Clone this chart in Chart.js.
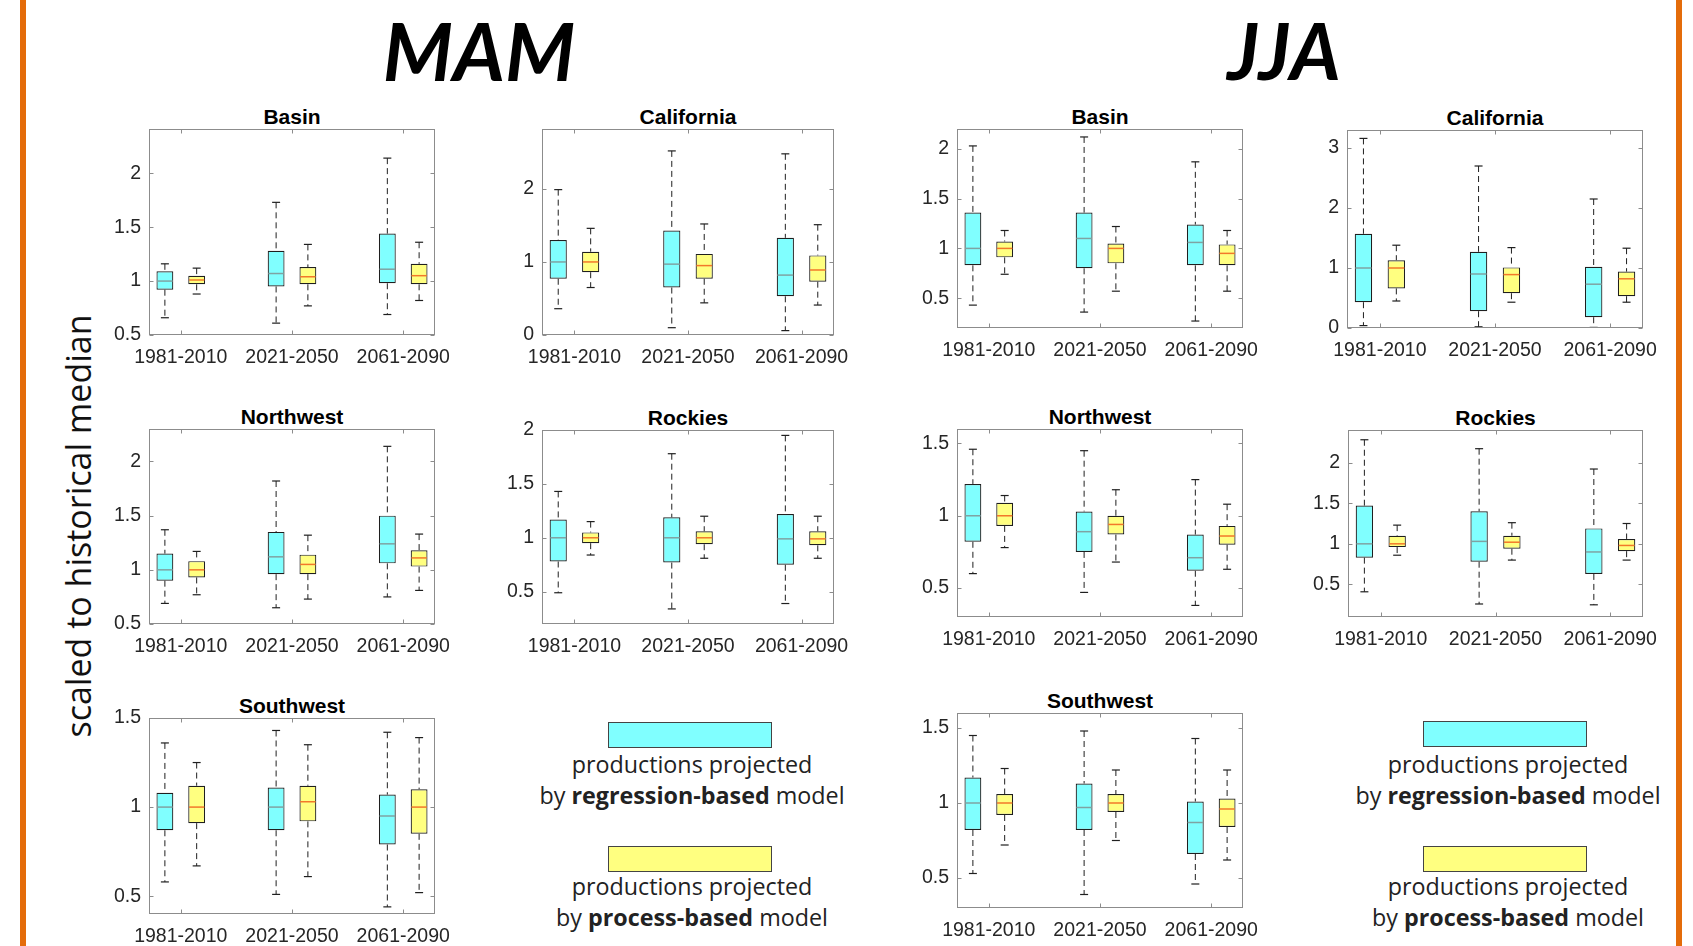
<!DOCTYPE html>
<html>
<head>
<meta charset="utf-8">
<script src="https://cdn.jsdelivr.net/npm/chart.js@4.4.1/dist/chart.umd.min.js"></script>
<style>
  html, body { margin: 0; padding: 0; background: #fff; }
  #page { position: relative; width: 1693px; height: 946px; overflow: hidden; background: #fff; }
  .edge { position: absolute; top: 0; width: 6px; height: 946px; background: #e46c0a; }
  .season { position: absolute; width: 300px; text-align: center; font-family: Lato, 'Open Sans', sans-serif;
            font-weight: 700; font-style: italic; font-size: 80px; line-height: 80px; color: #000; }
  .ptitle { position: absolute; text-align: center; font-family: 'Liberation Sans', Arial, sans-serif;
            font-weight: 700; font-size: 21px; line-height: 24px; color: #000; white-space: nowrap; }
  .ylab { position: absolute; left: 78px; top: 526px; transform: translate(-50%, -50%) rotate(-90deg);
          font-family: 'Open Sans', sans-serif; font-size: 34px; color: #111; white-space: nowrap; }
  .swatch { position: absolute; width: 164px; height: 26px; box-sizing: border-box; border: 1px solid #444; }
  .legtext { position: absolute; width: 400px; text-align: center; font-family: 'Open Sans', sans-serif;
             font-size: 23.3px; line-height: 31px; color: #222; white-space: nowrap; }
  canvas { position: absolute; }
</style>
</head>
<body>
<div id="page">
  <div class="edge" style="left:20px"></div>
  <div class="edge" style="left:1676px"></div>
  <div class="season" style="left:329px; top:10px">MAM</div>
  <div class="season" style="left:1134px; top:10px; font-size:78px">JJA</div>
  <div class="ylab">scaled to historical median</div>

  <div class="swatch" style="left:608px; top:722px; background:#80ffff"></div>
  <div class="legtext" style="left:492px; top:749px">productions projected</div>
  <div class="legtext" style="left:492px; top:780px">by <b>regression-based</b> model</div>
  <div class="swatch" style="left:608px; top:846px; background:#ffff80"></div>
  <div class="legtext" style="left:492px; top:871px">productions projected</div>
  <div class="legtext" style="left:492px; top:902px">by <b>process-based</b> model</div>

  <div class="swatch" style="left:1423px; top:721px; background:#80ffff"></div>
  <div class="legtext" style="left:1308px; top:749px">productions projected</div>
  <div class="legtext" style="left:1308px; top:780px">by <b>regression-based</b> model</div>
  <div class="swatch" style="left:1423px; top:846px; background:#ffff80"></div>
  <div class="legtext" style="left:1308px; top:871px">productions projected</div>
  <div class="legtext" style="left:1308px; top:902px">by <b>process-based</b> model</div>
</div>

<script>
// Periods on the x axis
const PERIODS = ['1981-2010', '2021-2050', '2061-2090'];

// Box statistics per period: [lower whisker, Q1, median, Q3, upper whisker]
// "REG" = regression-based model, "PROC" = process-based model

const MAM_BASIN_REG  = [[0.66, 0.92, 1.00, 1.09, 1.16], [0.61, 0.95, 1.07, 1.28, 1.73], [0.69, 0.98, 1.11, 1.44, 2.14]];
const MAM_BASIN_PROC = [[0.88, 0.97, 1.01, 1.05, 1.12], [0.77, 0.97, 1.04, 1.13, 1.34], [0.82, 0.97, 1.05, 1.16, 1.36]];

const MAM_CALIFORNIA_REG  = [[0.36, 0.77, 1.00, 1.30, 1.99], [0.10, 0.65, 0.97, 1.43, 2.52], [0.06, 0.53, 0.82, 1.33, 2.48]];
const MAM_CALIFORNIA_PROC = [[0.65, 0.86, 1.00, 1.14, 1.46], [0.44, 0.77, 0.95, 1.11, 1.52], [0.41, 0.73, 0.89, 1.09, 1.51]];

const JJA_BASIN_REG  = [[0.43, 0.83, 1.00, 1.36, 2.03], [0.36, 0.80, 1.10, 1.36, 2.12], [0.27, 0.83, 1.06, 1.24, 1.87]];
const JJA_BASIN_PROC = [[0.74, 0.91, 1.00, 1.07, 1.18], [0.57, 0.85, 1.00, 1.05, 1.22], [0.57, 0.83, 0.95, 1.04, 1.18]];

const JJA_CALIFORNIA_REG  = [[0.04, 0.43, 1.00, 1.57, 3.16], [0.02, 0.28, 0.90, 1.27, 2.70], [0.01, 0.18, 0.73, 1.02, 2.15]];
const JJA_CALIFORNIA_PROC = [[0.45, 0.66, 1.00, 1.13, 1.38], [0.43, 0.58, 0.89, 1.01, 1.34], [0.43, 0.53, 0.82, 0.94, 1.33]];

const MAM_NORTHWEST_REG  = [[0.69, 0.90, 1.00, 1.15, 1.37], [0.65, 0.96, 1.12, 1.35, 1.82], [0.75, 1.06, 1.24, 1.50, 2.14]];
const MAM_NORTHWEST_PROC = [[0.77, 0.93, 1.00, 1.08, 1.17], [0.73, 0.96, 1.05, 1.14, 1.32], [0.81, 1.03, 1.11, 1.18, 1.33]];

const MAM_ROCKIES_REG  = [[0.49, 0.78, 1.00, 1.17, 1.43], [0.34, 0.77, 1.00, 1.19, 1.78], [0.39, 0.75, 0.99, 1.22, 1.95]];
const MAM_ROCKIES_PROC = [[0.84, 0.95, 1.00, 1.05, 1.15], [0.81, 0.94, 1.00, 1.06, 1.20], [0.81, 0.93, 0.99, 1.06, 1.20]];

const JJA_NORTHWEST_REG  = [[0.60, 0.82, 1.00, 1.22, 1.46], [0.47, 0.75, 0.89, 1.03, 1.45], [0.38, 0.62, 0.71, 0.87, 1.25]];
const JJA_NORTHWEST_PROC = [[0.78, 0.93, 1.00, 1.09, 1.14], [0.68, 0.87, 0.94, 1.00, 1.18], [0.63, 0.80, 0.86, 0.93, 1.08]];

const JJA_ROCKIES_REG  = [[0.41, 0.83, 1.00, 1.47, 2.28], [0.26, 0.78, 1.03, 1.40, 2.17], [0.25, 0.63, 0.90, 1.19, 1.92]];
const JJA_ROCKIES_PROC = [[0.86, 0.96, 1.00, 1.10, 1.23], [0.80, 0.94, 1.02, 1.10, 1.26], [0.80, 0.91, 0.98, 1.06, 1.25]];

const MAM_SOUTHWEST_REG  = [[0.58, 0.87, 1.00, 1.08, 1.36], [0.51, 0.87, 1.00, 1.11, 1.43], [0.44, 0.79, 0.95, 1.07, 1.42]];
const MAM_SOUTHWEST_PROC = [[0.67, 0.91, 1.00, 1.12, 1.25], [0.61, 0.92, 1.03, 1.12, 1.35], [0.52, 0.85, 1.00, 1.10, 1.39]];

const JJA_SOUTHWEST_REG  = [[0.53, 0.82, 1.00, 1.17, 1.45], [0.39, 0.82, 0.97, 1.13, 1.48], [0.46, 0.66, 0.87, 1.01, 1.43]];
const JJA_SOUTHWEST_PROC = [[0.72, 0.92, 1.00, 1.06, 1.23], [0.75, 0.94, 1.00, 1.06, 1.22], [0.62, 0.84, 0.96, 1.03, 1.22]];

// Y tick labels of each panel
const TICKS_HALF_TO_2 = [0.5, 1, 1.5, 2];
const TICKS_0_TO_2    = [0, 1, 2];
const TICKS_0_TO_3    = [0, 1, 2, 3];
const TICKS_HALF_TO_1_5 = [0.5, 1, 1.5];

// Panel layout: plot rectangle [left, top, right, bottom] in page pixels and y range
const PANELS = [
  { title: 'Basin',      box: [149, 129, 435, 335],  y: [0.5, 2.41], ticks: TICKS_HALF_TO_2,   reg: MAM_BASIN_REG,      proc: MAM_BASIN_PROC },
  { title: 'California', box: [542, 129, 834, 335],  y: [0, 2.82],   ticks: TICKS_0_TO_2,      reg: MAM_CALIFORNIA_REG, proc: MAM_CALIFORNIA_PROC },
  { title: 'Basin',      box: [957, 129, 1243, 328], y: [0.2, 2.2],  ticks: TICKS_HALF_TO_2,   reg: JJA_BASIN_REG,      proc: JJA_BASIN_PROC },
  { title: 'California', box: [1347, 130, 1643, 328],y: [0, 3.3],    ticks: TICKS_0_TO_3,      reg: JJA_CALIFORNIA_REG, proc: JJA_CALIFORNIA_PROC },
  { title: 'Northwest',  box: [149, 429, 435, 624],  y: [0.5, 2.3],  ticks: TICKS_HALF_TO_2,   reg: MAM_NORTHWEST_REG,  proc: MAM_NORTHWEST_PROC },
  { title: 'Rockies',    box: [542, 430, 834, 624],  y: [0.2, 2.0],  ticks: TICKS_HALF_TO_2,   reg: MAM_ROCKIES_REG,    proc: MAM_ROCKIES_PROC },
  { title: 'Northwest',  box: [957, 429, 1243, 617], y: [0.3, 1.6],  ticks: TICKS_HALF_TO_1_5, reg: JJA_NORTHWEST_REG,  proc: JJA_NORTHWEST_PROC },
  { title: 'Rockies',    box: [1348, 430, 1643, 617],y: [0.1, 2.4],  ticks: TICKS_HALF_TO_2,   reg: JJA_ROCKIES_REG,    proc: JJA_ROCKIES_PROC },
  { title: 'Southwest',  box: [149, 718, 435, 914],  y: [0.4, 1.5],  ticks: TICKS_HALF_TO_1_5, reg: MAM_SOUTHWEST_REG,  proc: MAM_SOUTHWEST_PROC },
  { title: 'Southwest',  box: [957, 713, 1243, 908], y: [0.3, 1.6],  ticks: TICKS_HALF_TO_1_5, reg: JJA_SOUTHWEST_REG,  proc: JJA_SOUTHWEST_PROC }
];

// Box x positions on a linear axis running from -0.5 to 8.5
const REG_X = [0, 3.5, 7];
const PROC_X = [1, 4.5, 8];
const GROUP_X = [0.5, 4, 7.5];
const BAR_FRAC = 0.53;

const AX_W = 60, AX_H = 42, PAD_T = 26, PAD_R = 38;
const TICK_FONT = { family: "'Liberation Sans', Arial, sans-serif", size: 19.5 };
const INK = '#1f1f1f';

// Axes box with inward tick marks on all four sides
const framePlugin = {
  id: 'frame',
  afterDraw(chart) {
    const { ctx, chartArea: a, scales } = chart;
    const L = Math.round(a.left) + 0.5, R = Math.round(a.right) - 0.5;
    const T = Math.round(a.top) + 0.5, B = Math.round(a.bottom) - 0.5;
    const tl = 4;
    ctx.save();
    ctx.strokeStyle = '#8c8c8c';
    ctx.lineWidth = 1;
    ctx.strokeRect(L, T, R - L, B - T);
    ctx.beginPath();
    scales.y.ticks.forEach(t => {
      const y = Math.round(scales.y.getPixelForValue(t.value)) + 0.5;
      ctx.moveTo(L, y); ctx.lineTo(L + tl, y);
      ctx.moveTo(R, y); ctx.lineTo(R - tl, y);
    });
    scales.x.ticks.forEach(t => {
      const x = Math.round(scales.x.getPixelForValue(t.value)) + 0.5;
      ctx.moveTo(x, B); ctx.lineTo(x, B - tl);
      ctx.moveTo(x, T); ctx.lineTo(x, T + tl);
    });
    ctx.stroke();
    ctx.restore();
  }
};

function whiskerPoints(stats, xs) {
  const pts = [];
  stats.forEach((s, i) => {
    pts.push({ x: xs[i], y: s[4] }, { x: xs[i], y: s[3] }, { x: xs[i], y: null });
    pts.push({ x: xs[i], y: s[1] }, { x: xs[i], y: s[0] }, { x: xs[i], y: null });
  });
  return pts;
}

function capPoints(stats, xs) {
  const pts = [];
  stats.forEach((s, i) => { pts.push({ x: xs[i], y: s[0] }, { x: xs[i], y: s[4] }); });
  return pts;
}

const page = document.getElementById('page');

PANELS.forEach(p => {
  const [l, t, r, b] = p.box;
  const W = r - l, H = b - t;
  const cw = W + AX_W + PAD_R, ch = H + PAD_T + AX_H;

  const title = document.createElement('div');
  title.className = 'ptitle';
  title.style.left = l + 'px';
  title.style.width = W + 'px';
  title.style.top = (t - 24.5) + 'px';
  title.textContent = p.title;
  page.appendChild(title);

  const cv = document.createElement('canvas');
  cv.width = cw; cv.height = ch;
  cv.style.width = cw + 'px'; cv.style.height = ch + 'px';
  cv.style.left = (l - AX_W) + 'px';
  cv.style.top = (t - PAD_T) + 'px';
  page.appendChild(cv);

  const medRadius = (W / 9) * BAR_FRAC / 2 - 0.7;

  const datasets = [
    { type: 'scatter', order: 0, data: p.reg.map((s, i) => ({ x: REG_X[i], y: s[2] })),
      pointStyle: 'line', pointRadius: medRadius, borderColor: '#7fa3a3', pointBorderWidth: 1.5, borderWidth: 1.5 },
    { type: 'scatter', order: 0, data: p.proc.map((s, i) => ({ x: PROC_X[i], y: s[2] })),
      pointStyle: 'line', pointRadius: medRadius, borderColor: '#f2782a', pointBorderWidth: 1.5, borderWidth: 1.5 },
    { type: 'bar', order: 1, data: p.reg.map((s, i) => ({ x: REG_X[i], y: [s[1], s[3]] })),
      backgroundColor: '#80ffff', borderColor: INK, borderWidth: 1.2, borderSkipped: false,
      grouped: false, barPercentage: BAR_FRAC, categoryPercentage: 1 },
    { type: 'bar', order: 1, data: p.proc.map((s, i) => ({ x: PROC_X[i], y: [s[1], s[3]] })),
      backgroundColor: '#ffff80', borderColor: INK, borderWidth: 1.2, borderSkipped: false,
      grouped: false, barPercentage: BAR_FRAC, categoryPercentage: 1 },
    { type: 'scatter', order: 1, data: capPoints(p.reg, REG_X).concat(capPoints(p.proc, PROC_X)),
      pointStyle: 'line', pointRadius: 4, borderColor: INK, pointBorderWidth: 1.2, borderWidth: 1.2 },
    { type: 'line', order: 2, data: whiskerPoints(p.reg, REG_X).concat(whiskerPoints(p.proc, PROC_X)),
      borderColor: INK, borderWidth: 1, borderDash: [6, 4], pointRadius: 0, spanGaps: false, fill: false, tension: 0 }
  ];

  const chart = new Chart(cv, {
    type: 'bar',
    data: { datasets },
    options: {
      responsive: false,
      maintainAspectRatio: false,
      animation: false,
      events: [],
      devicePixelRatio: 1,
      layout: { padding: { left: 0, right: PAD_R, top: PAD_T, bottom: 0 } },
      plugins: { legend: { display: false }, tooltip: { enabled: false }, title: { display: false } },
      scales: {
        x: {
          type: 'linear', min: -0.5, max: 8.5, offset: false,
          grid: { display: false, drawTicks: false }, border: { display: false },
          afterBuildTicks: s => { s.ticks = GROUP_X.map(v => ({ value: v })); },
          afterFit: s => { s.height = AX_H; },
          ticks: { padding: 11, color: '#262626', font: TICK_FONT, maxRotation: 0, autoSkip: false,
                   callback: (v, i) => PERIODS[i] }
        },
        y: {
          type: 'linear', min: p.y[0], max: p.y[1],
          grid: { display: false, drawTicks: false }, border: { display: false },
          afterBuildTicks: s => { s.ticks = p.ticks.map(v => ({ value: v })); },
          afterFit: s => { s.width = AX_W; },
          ticks: { padding: 8, color: '#262626', font: TICK_FONT, callback: v => String(v) }
        }
      }
    },
    plugins: [framePlugin]
  });

  // Place the canvas so that its plot area sits on the panel rectangle
  const a = chart.chartArea;
  cv.style.left = (l - a.left) + 'px';
  cv.style.top = (t - a.top) + 'px';
});
</script>
</body>
</html>
